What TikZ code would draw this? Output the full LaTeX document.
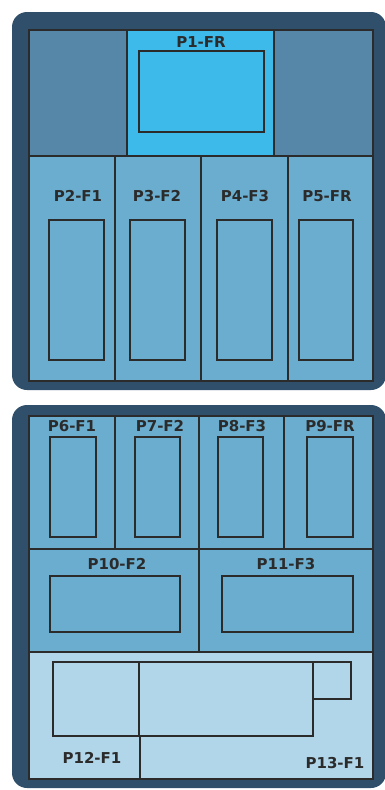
\documentclass[tikz,border=0pt]{standalone}
\usepackage{fontspec}
\setmainfont{DejaVu Sans}
\definecolor{navy}{HTML}{2F4F6A}
\definecolor{steel}{HTML}{5687A9}
\definecolor{bright}{HTML}{3DB9EA}
\definecolor{mid}{HTML}{6AADCF}
\definecolor{pale}{HTML}{B1D5E9}
\definecolor{ink}{HTML}{2B2B2B}
\tikzset{
  panel/.style={fill=navy, rounded corners=15pt},
  cell/.style={draw=ink, line width=1.2pt},
  slot/.style={draw=ink, line width=2.6pt},
  lbl/.style={font=\bfseries\fontsize{15}{16}\selectfont, text=ink, inner sep=0pt},
}
\begin{document}
\begin{tikzpicture}[x=1pt,y=-1pt]
\useasboundingbox (0,0) rectangle (384,790);
\fill[white] (0,0) rectangle (384,790);
% top panel
\fill[panel] (12,12) rectangle (386,390);
\filldraw[cell, fill=steel] (29,30) rectangle (127,156);
\filldraw[cell, fill=bright] (127,30) rectangle (274,156);
\filldraw[cell, fill=steel] (274,30) rectangle (373,156);
\filldraw[cell, fill=mid] (29,156) rectangle (115,381);
\filldraw[cell, fill=mid] (115,156) rectangle (201,381);
\filldraw[cell, fill=mid] (201,156) rectangle (288,381);
\filldraw[cell, fill=mid] (288,156) rectangle (373,381);
\draw[slot] (139,51) rectangle (264,132);
\draw[slot] (49,220) rectangle (104,360);
\draw[slot] (130,220) rectangle (185,360);
\draw[slot] (217,220) rectangle (272,360);
\draw[slot] (299,220) rectangle (353,360);
\node[lbl] (p1) at (201,42) {P1-FR};
\node[lbl] (p2) at (78,196) {P2-F1};
\node[lbl] (p3) at (157,196) {P3-F2};
\node[lbl] (p4) at (245,196) {P4-F3};
\node[lbl] (p5) at (327,196) {P5-FR};
% bottom panel
\fill[panel] (12,405) rectangle (386,788);
\filldraw[cell, fill=mid] (29,416) rectangle (115,549);
\filldraw[cell, fill=mid] (115,416) rectangle (199,549);
\filldraw[cell, fill=mid] (199,416) rectangle (284,549);
\filldraw[cell, fill=mid] (284,416) rectangle (373,549);
\filldraw[cell, fill=mid] (29,549) rectangle (199,652);
\filldraw[cell, fill=mid] (199,549) rectangle (373,652);
\filldraw[cell, fill=pale] (29,652) rectangle (373,779);
\draw[cell] (140,736) -- (140,779);
\draw[slot] (50,437) rectangle (96,537);
\draw[slot] (135,437) rectangle (180,537);
\draw[slot] (218,437) rectangle (263,537);
\draw[slot] (307,437) rectangle (353,537);
\draw[slot] (50,576) rectangle (180,632);
\draw[slot] (222,576) rectangle (353,632);
\draw[slot] (53,662) rectangle (139,736);
\draw[slot] (139,662) rectangle (313,736);
\draw[slot] (313,662) rectangle (351,699);
\node[lbl] (p6) at (72,426) {P6-F1};
\node[lbl] (p7) at (160,426) {P7-F2};
\node[lbl] (p8) at (242,426) {P8-F3};
\node[lbl] (p9) at (330,426) {P9-FR};
\node[lbl] (p10) at (117,564) {P10-F2};
\node[lbl] (p11) at (286,564) {P11-F3};
\node[lbl] (p12) at (92,758) {P12-F1};
\node[lbl] (p13) at (335,763) {P13-F1};
\end{tikzpicture}
\end{document}
